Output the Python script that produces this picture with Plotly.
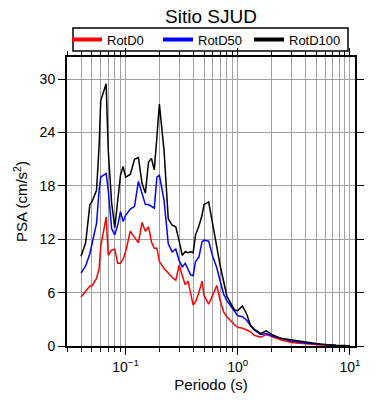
import plotly.graph_objects as go
import math

periods = [0.04, 0.044, 0.048, 0.05, 0.055, 0.058, 0.06, 0.067, 0.07, 0.075,
           0.08, 0.085, 0.09, 0.095, 0.1, 0.11, 0.12, 0.13, 0.14, 0.15,
           0.16, 0.17, 0.18, 0.19, 0.2, 0.22, 0.24, 0.26, 0.28, 0.3,
           0.32, 0.34, 0.36, 0.38, 0.4, 0.42, 0.45, 0.48, 0.5, 0.55,
           0.6, 0.65, 0.7, 0.75, 0.8, 0.9, 0.95, 1.0, 1.1, 1.2,
           1.3, 1.4, 1.6, 1.8, 2.0, 2.4, 3.0, 4.0, 5.5, 7.5, 10.0]

rotd100 = [10.1, 11.6, 15.9, 16.2, 17.5, 22.5, 27.6, 29.5, 22.0, 16.1,
           13.3, 16.0, 19.2, 20.2, 19.0, 19.3, 21.0, 21.2, 18.3, 17.2,
           20.7, 21.1, 19.8, 23.5, 27.2, 22.0, 14.3, 13.6, 13.4, 11.8,
           10.2, 10.6, 10.5, 10.6, 10.5, 12.5, 13.5, 14.7, 15.9, 16.2,
           13.5, 11.0, 8.9, 7.2, 5.6, 4.4, 4.0, 4.0, 4.5, 3.6,
           2.3, 1.9, 1.4, 1.7, 1.3, 0.87, 0.67, 0.4, 0.2, 0.08, 0.03]

rotd50 = [8.2, 9.0, 10.4, 11.4, 13.8, 17.5, 19.0, 19.4, 17.5, 13.2,
          12.5, 13.6, 15.1, 14.0, 14.7, 15.4, 15.7, 18.5, 17.2, 15.9,
          15.9, 15.7, 15.5, 19.0, 19.2, 16.4, 11.5, 10.6, 10.9, 9.6,
          8.9, 9.3, 8.55, 8.0, 7.9, 9.5, 10.0, 11.7, 11.9, 11.8,
          10.0, 8.8, 7.2, 5.8, 5.1, 4.2, 3.7, 3.4, 3.3, 2.9,
          2.3, 1.8, 1.3, 1.4, 1.15, 0.85, 0.55, 0.35, 0.2, 0.06, 0.03]

rotd0 = [5.5, 6.1, 6.75, 6.75, 7.6, 8.7, 11.2, 14.5, 10.2, 10.8,
         10.9, 9.3, 9.3, 9.8, 10.6, 12.9, 12.2, 11.6, 13.9, 12.9,
         13.4, 11.7, 11.0, 11.0, 9.5, 8.7, 8.2, 7.7, 7.4, 9.1,
         7.9, 6.9, 7.3, 5.7, 4.6, 5.0, 6.0, 7.3, 5.7, 4.7,
         5.7, 6.8, 5.0, 3.8, 3.3, 2.6, 2.3, 2.1, 2.0, 1.8,
         1.6, 1.2, 1.0, 1.3, 1.05, 0.7, 0.4, 0.25, 0.12, 0.05, 0.02]

series = [("RotD0", rotd0, "#ff0000"),
          ("RotD50", rotd50, "#0000ff"),
          ("RotD100", rotd100, "#000000")]

y_ticks = [0, 6, 12, 18, 24, 30]
x_ticks = [0.1, 1, 10]
x_ticktext = ["10<sup>\u22121</sup>", "10<sup>0</sup>", "10<sup>1</sup>"]

font = "Liberation Sans, Arial, Helvetica, sans-serif"

# page body has an 8px default margin: size the figure to fill the rest
W, H = 382, 392
ML, MT = 59, 49
PW, PH = 288, 289


def px_x(fx):
    return (fx - ML) / PW


def px_y(fy):
    return 1 + (MT - fy) / PH


fig = go.Figure()
for name, vals, col in series:
    fig.add_trace(go.Scatter(x=periods, y=vals, mode="lines", name=name,
                             line=dict(color=col, width=1.5), showlegend=False))
for name, vals, col in series:
    fig.add_trace(go.Scatter(x=[None], y=[None], mode="lines", name=name,
                             line=dict(color=col, width=4), showlegend=True))

fig.update_layout(
    width=W, height=H,
    margin=dict(l=ML, r=W - ML - PW, t=MT, b=H - MT - PH, autoexpand=False),
    paper_bgcolor="white", plot_bgcolor="white",
    font=dict(family=font, size=14, color="black"),
    title=dict(text="Sitio SJUD", x=0.5, xref="paper", xanchor="center",
               y=1 - 8.5 / H, yref="container", yanchor="middle",
               font=dict(size=19, family=font, color="black")),
    legend=dict(orientation="h", x=0.0, xref="paper",
                xanchor="left", y=px_y(31.5), yanchor="middle",
                borderwidth=0, bgcolor="rgba(0,0,0,0)",
                font=dict(size=13, family=font), itemwidth=30,
                entrywidth=46, entrywidthmode="pixels",
                tracegroupgap=0),
    shapes=[dict(type="rect", xref="paper", yref="paper",
                 x0=px_x(65), x1=px_x(340), y0=px_y(43), y1=px_y(20),
                 line=dict(color="black", width=1.5), layer="above")],
)

fig.update_xaxes(
    type="log", range=[math.log10(0.03), math.log10(11.1)],
    tickvals=x_ticks, ticktext=x_ticktext, automargin=False,
    ticks="outside", ticklen=7, tickwidth=1, tickcolor="black",
    showline=True, linecolor="black", linewidth=2, mirror="ticks",
    showgrid=True, gridcolor="#a0a0a0", gridwidth=1,
    minor=dict(ticks="outside", ticklen=4, tickcolor="black", showgrid=True,
               gridcolor="#a0a0a0", gridwidth=1, dtick="D1"),
    tickfont=dict(size=14),
    title=dict(text="Periodo (s)", font=dict(size=15), standoff=6),
    zeroline=False,
)
fig.update_yaxes(
    range=[0, 32.5], tickvals=y_ticks, automargin=False,
    ticks="outside", ticklen=7, tickwidth=1, tickcolor="black",
    showline=True, linecolor="black", linewidth=2, mirror="ticks",
    showgrid=True, gridcolor="#a0a0a0", gridwidth=1,
    tickfont=dict(size=14),
    title=dict(text="PSA (cm/s<sup>2</sup>)", font=dict(size=15), standoff=8),
    zeroline=False,
)

fig.write_html("out.html")
